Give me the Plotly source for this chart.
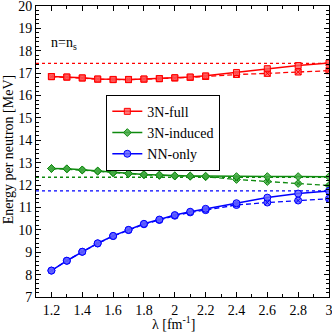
import plotly.graph_objects as go

# lambda values [fm^-1]
lam = [1.2, 1.3, 1.4, 1.5, 1.6, 1.7, 1.8, 1.9, 2.0, 2.1, 2.2, 2.4, 2.6, 2.8, 3.0]

# 3N-full (solid) and its dashed companion
full_solid = [16.85, 16.83, 16.79, 16.74, 16.72, 16.72, 16.74, 16.76, 16.80, 16.83, 16.88, 17.03, 17.20, 17.34, 17.45]
full_dashed = [16.84, 16.82, 16.78, 16.73, 16.71, 16.71, 16.73, 16.75, 16.78, 16.81, 16.85, 16.94, 16.99, 17.05, 17.11]

# 3N-induced
ind_solid = [12.74, 12.73, 12.68, 12.63, 12.56, 12.52, 12.47, 12.45, 12.42, 12.41, 12.40, 12.38, 12.38, 12.38, 12.37]
ind_dashed = [12.74, 12.72, 12.67, 12.62, 12.55, 12.51, 12.46, 12.43, 12.40, 12.39, 12.37, 12.25, 12.16, 12.07, 11.98]

# NN-only
nn_solid = [8.18, 8.62, 9.02, 9.40, 9.73, 10.00, 10.27, 10.46, 10.66, 10.81, 10.94, 11.19, 11.44, 11.62, 11.74]
nn_dashed = [8.18, 8.62, 9.02, 9.39, 9.72, 9.99, 10.25, 10.44, 10.63, 10.78, 10.88, 11.11, 11.22, 11.31, 11.39]

# dotted reference levels
ref_full = 17.44
ref_ind = 12.35
ref_nn = 11.74

font_family = "Liberation Serif"

series = [
    ("3N-full", full_solid, full_dashed, "#ff0000", "rgba(255,90,90,0.8)", "square", 6, ref_full),
    ("3N-induced", ind_solid, ind_dashed, "#0f8a0f", "rgba(70,170,70,0.85)", "diamond", 6, ref_ind),
    ("NN-only", nn_solid, nn_dashed, "#0000ff", "rgba(100,100,255,0.85)", "circle", 7, ref_nn),
]

fig = go.Figure()

for name, ys, yd, col, fill, sym, msize, ref in series:
    fig.add_hline(y=ref, line=dict(color=col, width=1.3, dash="dot"), layer="below")
    fig.add_trace(go.Scatter(
        x=lam, y=yd, mode="lines+markers", showlegend=False,
        line=dict(color=col, width=1.3, dash="5px,3px"),
        marker=dict(symbol=sym + "-x", size=msize, color=fill, line=dict(color=col, width=1)),
    ))
    fig.add_trace(go.Scatter(
        x=lam, y=ys, mode="lines+markers", name=name,
        line=dict(color=col, width=1.5),
        marker=dict(symbol=sym, size=msize, color=fill, line=dict(color=col, width=1)),
    ))

fig.add_annotation(
    x=0.045, y=0.87, xref="paper", yref="paper",
    text="n=n<sub>s</sub>", showarrow=False, xanchor="left", yanchor="middle",
    font=dict(family=font_family, size=14, color="black"),
)
fig.add_annotation(
    x=0.47, y=-0.088, xref="paper", yref="paper",
    text="λ [fm<sup>-1</sup>]", showarrow=False, xanchor="center", yanchor="middle",
    font=dict(family=font_family, size=14, color="black"),
)
fig.add_annotation(
    x=-0.095, y=0.505, xref="paper", yref="paper", textangle=-90,
    text="Energy per neutron [MeV]", showarrow=False, xanchor="center", yanchor="middle",
    font=dict(family=font_family, size=14, color="black"),
)

axis_common = dict(
    showgrid=False, zeroline=False, showline=True, linecolor="black", linewidth=1,
    mirror="ticks", ticks="inside", ticklen=5, tickcolor="black",
    tickfont=dict(family=font_family, size=14, color="black"),
    ticklabeloverflow="allow", automargin=False,
)

fig.update_xaxes(
    range=[1.1, 3.0], dtick=0.2, tick0=1.2,
    minor=dict(dtick=0.1, ticks="inside", ticklen=3, tickcolor="black"),
    **axis_common,
)
fig.update_yaxes(
    range=[7, 20], dtick=1,
    minor=dict(dtick=0.2, ticks="inside", ticklen=3, tickcolor="black"),
    **axis_common,
)

fig.update_layout(
    width=332, height=335,
    margin=dict(l=36, r=3, t=6, b=38, autoexpand=False),
    plot_bgcolor="white", paper_bgcolor="white",
    font=dict(family=font_family, size=14, color="black"),
    showlegend=True,
    legend=dict(
        x=0.24, y=0.695, xanchor="left", yanchor="top",
        bgcolor="white", bordercolor="black", borderwidth=1,
        font=dict(family=font_family, size=14, color="black"),
        itemwidth=30, tracegroupgap=0,
    ),
)

# drop the default page margin so the figure sits at the window's corner
fig.write_html("out.html", config={"displayModeBar": False},
               post_script="document.body.style.margin='0px';")
